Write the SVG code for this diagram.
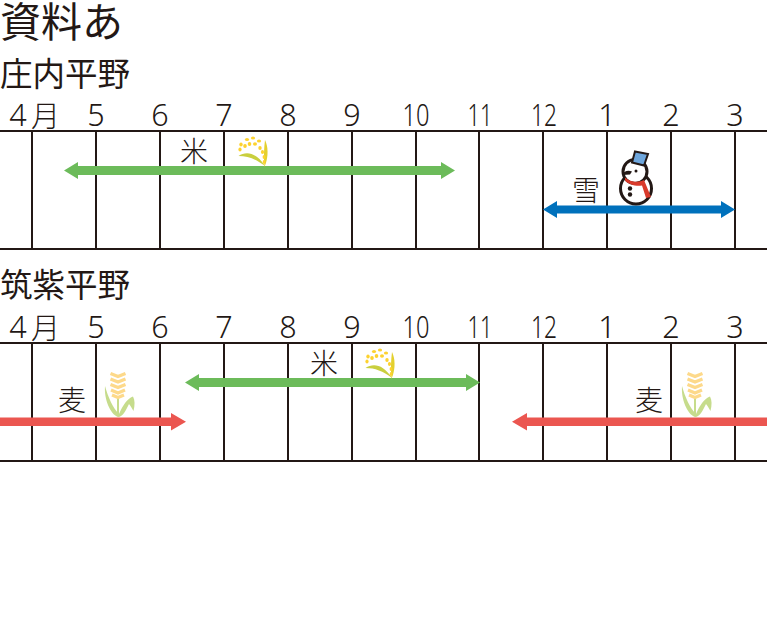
<svg xmlns="http://www.w3.org/2000/svg" width="770" height="619" viewBox="0 0 770 619">
<style>
text{font-family:"Noto Sans CJK JP","Noto Sans",sans-serif;fill:#231815;font-weight:400}
.m{font-size:29px;text-anchor:middle;font-weight:300}
.n{font-family:"Noto Sans","Liberation Sans",sans-serif;font-size:30.500px;font-weight:300;text-anchor:middle}
.t{font-size:41px}
.h{font-size:32.500px}
.l{font-size:28px;text-anchor:middle;font-weight:300}
.g line{stroke:#231815;stroke-width:2}
.gr{fill:#6cbb5a}.bl{fill:#0071bc}.rd{fill:#eb5650}
</style>
<defs>
<g id="rice">
<path d="M238.500 156C246 151 256 152 265 166C256 159 248 156 238.500 156Z" fill="#c9cf3e"/>
<path d="M265 140C268 146 269 156 264.500 167C263.500 157 264 148 265 140Z" fill="#e3d02e"/>
<g fill="#fdd22f"><ellipse cx="240" cy="149.500" rx="1.600" ry="2.100"/><ellipse cx="241" cy="144.500" rx="1.700" ry="2.100"/><ellipse cx="247" cy="139.500" rx="2.100" ry="1.500"/><ellipse cx="253" cy="138" rx="2.100" ry="1.500"/><ellipse cx="259" cy="141" rx="2.100" ry="1.500"/><ellipse cx="245" cy="146" rx="1.800" ry="2"/><ellipse cx="249.500" cy="144" rx="1.800" ry="2"/><ellipse cx="255" cy="144" rx="2" ry="1.700"/><ellipse cx="260" cy="148" rx="1.700" ry="2"/><ellipse cx="262.500" cy="152" rx="1.600" ry="2"/><ellipse cx="264" cy="157" rx="1.400" ry="2"/><ellipse cx="264" cy="162" rx="1.300" ry="2"/></g>
</g>
<g id="wheat">
<path d="M105 386C104 399 110 414 118 417C123 417 126 410 129 404C131 406 132 409 133.500 411C135 405 135 400 133 396.500C127 399 123 405 119 414C113 408 108 397 105 386Z" fill="#c6dc8c"/>
<path d="M118 396V416" stroke="#c6dc8c" stroke-width="2" fill="none"/>
<g fill="none" stroke="#fdd98a" stroke-width="3.200"><path d="M110.500 373.500L118 376.500L125.500 373.500M110.500 379L118 382L125.500 379M110.500 384.500L118 387.500L125.500 384.500M111 390L118 393L125 390M112 395L118 397.500L124 395"/></g>
</g>
</defs>

<text class="t" x="0" y="36.500">資料あ</text>
<text class="h" x="0" y="86">庄内平野</text>
<text class="h" x="0" y="297">筑紫平野</text>

<g id="connectors">
<g id="grid-shonai" class="g">
<line x1="0" y1="131" x2="767" y2="131"/><line x1="0" y1="249" x2="767" y2="249"/>
<line x1="32" y1="131" x2="32" y2="249"/><line x1="96" y1="131" x2="96" y2="249"/><line x1="160" y1="131" x2="160" y2="249"/><line x1="224" y1="131" x2="224" y2="249"/><line x1="288" y1="131" x2="288" y2="249"/><line x1="352" y1="131" x2="352" y2="249"/><line x1="416" y1="131" x2="416" y2="249"/><line x1="479" y1="131" x2="479" y2="249"/><line x1="543" y1="131" x2="543" y2="249"/><line x1="607" y1="131" x2="607" y2="249"/><line x1="671" y1="131" x2="671" y2="249"/><line x1="735" y1="131" x2="735" y2="249"/>
</g>
<g id="grid-chikushi" class="g">
<line x1="0" y1="343" x2="767" y2="343"/><line x1="0" y1="461" x2="767" y2="461"/>
<line x1="32" y1="343" x2="32" y2="461"/><line x1="96" y1="343" x2="96" y2="461"/><line x1="160" y1="343" x2="160" y2="461"/><line x1="224" y1="343" x2="224" y2="461"/><line x1="288" y1="343" x2="288" y2="461"/><line x1="352" y1="343" x2="352" y2="461"/><line x1="416" y1="343" x2="416" y2="461"/><line x1="479" y1="343" x2="479" y2="461"/><line x1="543" y1="343" x2="543" y2="461"/><line x1="607" y1="343" x2="607" y2="461"/><line x1="671" y1="343" x2="671" y2="461"/><line x1="735" y1="343" x2="735" y2="461"/>
</g>
<path class="gr" d="M64 170.500L78 162V166H441V162L455 170.500L441 179V175H78V179Z"/>
<path class="bl" d="M543 209.500L557 201V205.500H721V201L735 209.500L721 218V213.500H557V218Z"/>
<path class="gr" d="M185 382.500L199 374V378H466V374L480 382.500L466 391V387H199V391Z"/>
<path class="rd" d="M0 417.500H171V413L186 421.700L171 430.500V426H0Z"/>
<path class="rd" d="M512 421.700L527 413V417.500H767V426H527V430.500Z"/>
</g>

<g id="months-shonai">
<text x="18" y="126" class="n">4</text><text x="45.500" y="126.500" class="m">月</text><text x="96" y="126" class="n">5</text><text x="160" y="126" class="n">6</text><text x="224" y="126" class="n">7</text><text x="288" y="126" class="n">8</text><text x="352" y="126" class="n">9</text><text x="416" y="126" class="n" textLength="27" lengthAdjust="spacingAndGlyphs">10</text><text x="480" y="126" class="n" textLength="25" lengthAdjust="spacingAndGlyphs">11</text><text x="544" y="126" class="n" textLength="26" lengthAdjust="spacingAndGlyphs">12</text><text x="607" y="126" class="n">1</text><text x="671" y="126" class="n">2</text><text x="735" y="126" class="n">3</text>
</g>
<g id="months-chikushi">
<text x="18" y="338" class="n">4</text><text x="45.500" y="338.500" class="m">月</text><text x="96" y="338" class="n">5</text><text x="160" y="338" class="n">6</text><text x="224" y="338" class="n">7</text><text x="288" y="338" class="n">8</text><text x="352" y="338" class="n">9</text><text x="416" y="338" class="n" textLength="27" lengthAdjust="spacingAndGlyphs">10</text><text x="480" y="338" class="n" textLength="25" lengthAdjust="spacingAndGlyphs">11</text><text x="544" y="338" class="n" textLength="26" lengthAdjust="spacingAndGlyphs">12</text><text x="607" y="338" class="n">1</text><text x="671" y="338" class="n">2</text><text x="735" y="338" class="n">3</text>
</g>

<g id="rice-shonai"><text class="l" x="194" y="162">米</text><use href="#rice"/></g>
<g id="snow-shonai"><text class="l" x="586" y="201">雪</text>
<g stroke="#231815" stroke-width="3">
<circle cx="636" cy="188.500" r="15.500" fill="#fff"/>
<circle cx="635" cy="171.500" r="12" fill="#fff"/>
<path d="M635 151.500L648 154L644 165.500L632 162.500Z" fill="#6ea6dc" stroke-width="2"/>
</g>
<path d="M625 177.500C630 182 638 183 644 180L651 197L646 198L642 185.500C636 186.500 628 184.500 625 180.500Z" fill="#d93a2b"/>
<path d="M622 175C624 171 628 170 632 171.500L630 174.500Z" fill="#231815"/>
<circle cx="636" cy="171" r="1.500" fill="#231815"/><circle cx="630" cy="188.500" r="2.200" fill="#231815"/><circle cx="630" cy="194.500" r="2.200" fill="#231815"/>
</g>
<g id="wheat-chikushi-1"><text class="l" x="72" y="411">麦</text><use href="#wheat"/></g>
<g id="rice-chikushi"><text class="l" x="324" y="374">米</text><use href="#rice" transform="translate(127 212)"/></g>
<g id="wheat-chikushi-2"><text class="l" x="649" y="411">麦</text><use href="#wheat" transform="translate(577 0)"/></g>
</svg>
